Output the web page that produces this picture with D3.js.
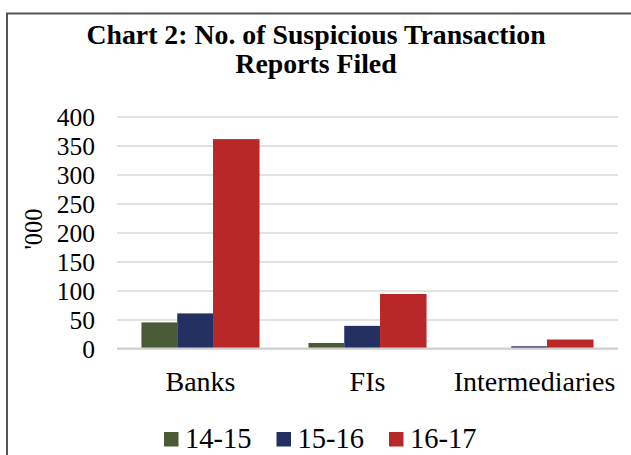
<!DOCTYPE html>
<html>
<head>
<meta charset="utf-8">
<script src="https://cdn.jsdelivr.net/npm/d3@7"></script>
<style>
  body { margin: 0; background: #fff; }
  svg text { font-family: "Liberation Serif", "Times New Roman", serif; fill: #000; }
  .grid line { stroke: #d9d9d9; stroke-width: 1.5; }
  .grid .domain { display: none; }
</style>
</head>
<body>
<div id="chart"></div>
<script>
// Data
const categories = ['Banks', 'FIs', 'Intermediaries']
const seriesNames = ['14-15', '15-16', '16-17']
const v1415 = [45, 9.5, 0.4]
const v1516 = [60.5, 39, 3.8]
const v1617 = [361, 94, 15.5]
const yTicks = [0, 50, 100, 150, 200, 250, 300, 350, 400]

const seriesValues = [v1415, v1516, v1617]
const colors = ['#4b5a36', '#253062', '#b92828']
// red bars are drawn a bit wider in the original
const barWeights = [1, 1, 1.3]

// Vars for dimensions
const width = 631
const height = 455
const margin = { top: 116.5, right: 13, bottom: 106.5, left: 117 }
const innerWidth = width - margin.left - margin.right
const innerHeight = height - margin.top - margin.bottom

const svg = d3.select('#chart')
  .append('svg')
  .attr('width', width)
  .attr('height', height)

// Outer frame (runs off the right and bottom edges)
svg.append('path')
  .attr('d', `M7,${height} V13.5 H${width}`)
  .attr('fill', 'none')
  .attr('stroke', '#555')
  .attr('stroke-width', 2)

// Title
const title = svg.append('text')
  .attr('text-anchor', 'middle')
  .attr('font-weight', 'bold')
  .attr('font-size', 27.8)
title.append('tspan').attr('x', 316).attr('y', 44).text('Chart 2: No. of Suspicious Transaction')
title.append('tspan').attr('x', 316).attr('y', 73).text('Reports Filed')

const g = svg.append('g')
  .attr('transform', `translate(${margin.left}, ${margin.top})`)

// Scales
const x0 = d3.scaleBand()
  .domain(categories)
  .range([0, innerWidth])
  .paddingInner(0.293)
  .paddingOuter(0.1465)

const weightTotal = d3.sum(barWeights)
const cum = [0, ...d3.cumsum(barWeights)]
const barX = i => x0.bandwidth() * cum[i] / weightTotal
const barW = i => x0.bandwidth() * barWeights[i] / weightTotal

const y = d3.scaleLinear().domain([0, 400]).range([innerHeight, 0])

// Y gridlines
g.append('g')
  .attr('class', 'grid')
  .call(d3.axisLeft(y).tickValues(yTicks).tickSize(-innerWidth).tickFormat(''))

// Left axis labels
g.append('g')
  .call(d3.axisLeft(y).tickValues(yTicks).tickSize(0).tickPadding(22))
  .call(a => a.select('.domain').remove())
  .selectAll('text')
  .attr('font-size', 25.5)
  .attr('dy', '0.34em')

// Y title
svg.append('text')
  .attr('transform', 'translate(42, 229) rotate(-90)')
  .attr('text-anchor', 'middle')
  .attr('font-size', 24.5)
  .text("'000")

// Bars
const groups = g.selectAll('.cat')
  .data(categories)
  .join('g')
  .attr('class', 'cat')
  .attr('transform', d => `translate(${x0(d)}, 0)`)

groups.selectAll('rect')
  .data((d, ci) => seriesValues.map((vals, si) => ({ si, value: vals[ci] })))
  .join('rect')
  .attr('x', d => barX(d.si))
  .attr('width', d => barW(d.si))
  .attr('y', d => y(d.value))
  .attr('height', d => innerHeight - y(d.value))
  .attr('fill', d => colors[d.si])

// Baseline
g.append('line')
  .attr('x1', 0)
  .attr('x2', innerWidth)
  .attr('y1', y(0))
  .attr('y2', y(0))
  .attr('stroke', '#d0d0d0')
  .attr('stroke-width', 2)

// Bottom axis - categories
g.append('g')
  .attr('transform', `translate(0, ${innerHeight})`)
  .call(d3.axisBottom(x0).tickSize(0))
  .call(a => a.select('.domain').remove())
  .selectAll('text')
  .attr('y', 42.5)
  .attr('dy', 0)
  .attr('font-size', 28)

// Legend
const legendX = d3.scaleBand()
  .domain(seriesNames)
  .range([164, 164 + 3 * 112.5])

const legend = svg.append('g')
  .selectAll('g')
  .data(seriesNames)
  .join('g')
  .attr('transform', d => `translate(${legendX(d)}, 0)`)

legend.append('rect')
  .attr('x', 0)
  .attr('y', 432)
  .attr('width', 14.5)
  .attr('height', 14.5)
  .attr('fill', (d, i) => colors[i])

legend.append('text')
  .attr('x', 21)
  .attr('y', 448)
  .attr('font-size', 28.5)
  .text(d => d)
</script>
</body>
</html>
